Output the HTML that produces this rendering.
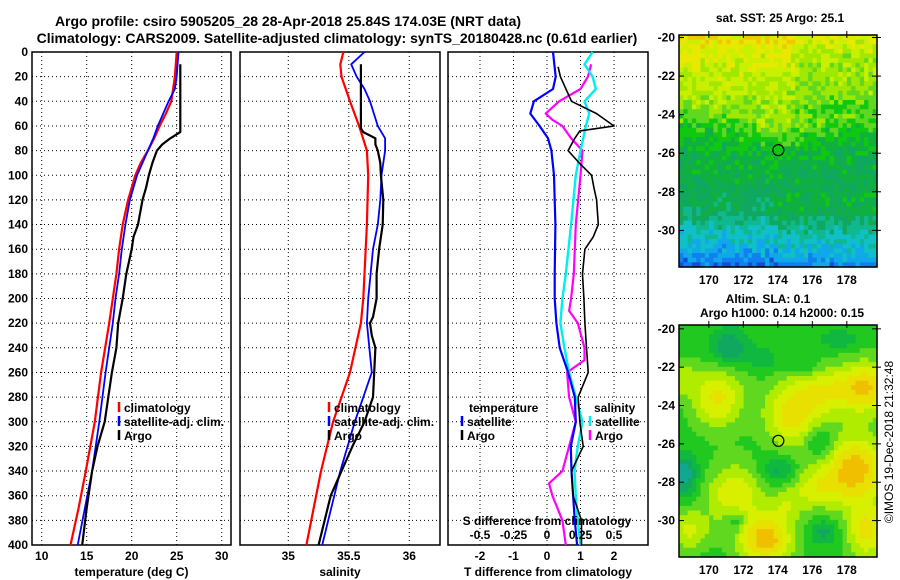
<!DOCTYPE html>
<html><head><meta charset="utf-8">
<style>
html,body{margin:0;padding:0;background:#fff;}
svg{display:block;font-family:"Liberation Sans",sans-serif;font-weight:bold;}
</style></head>
<body>
<svg id="c" width="900" height="580" viewBox="0 0 900 580">
<g id="g"></g>
</svg>
<script>
// ---- data ----
const tDepthClim = [0,10,20,30,40,50,60,70,80,90,100,120,140,160,180,200,220,260,300,340,370,400];
const tClim      = [25.0,24.9,24.8,24.6,24.4,23.8,23.1,22.5,21.8,21.0,20.4,19.6,19.0,18.6,18.3,17.9,17.5,16.6,15.9,14.9,14.1,13.2];
const tDepthSat  = [0,20,30,40,50,60,70,80,90,100,120,140,160,180,200,220,260,300,340,370,400];
const tSat       = [25.2,25.0,24.8,24.1,23.5,22.9,22.4,21.8,21.2,20.6,19.8,19.3,18.9,18.6,18.2,17.9,17.1,16.4,15.6,14.8,14.0];
const tDepthArgo = [10,65,70,75,80,90,100,110,120,140,150,160,180,200,220,240,260,280,300,320,340,370,400];
const tArgo      = [25.4,25.4,24.3,23.4,22.8,22.3,21.9,21.6,21.2,20.7,20.2,20.0,19.4,19.0,18.5,18.3,17.8,17.4,17.0,16.2,15.6,15.0,14.5];

const sDepthClim = [0,10,20,40,60,80,100,140,180,200,220,260,300,340,400];
const sClim      = [35.455,35.43,35.44,35.51,35.585,35.65,35.66,35.65,35.63,35.62,35.60,35.51,35.37,35.27,35.15];
const sDepthSat  = [0,10,20,30,40,60,70,80,100,120,140,160,180,200,220,260,300,340,400];
const sSat       = [35.63,35.52,35.565,35.63,35.675,35.74,35.80,35.80,35.77,35.76,35.74,35.70,35.68,35.66,35.65,35.69,35.55,35.43,35.28];
const sDepthArgo = [10,62,65,70,75,80,90,100,120,140,160,180,200,215,220,230,240,280,300,320,340,360,400];
const sArgo      = [35.60,35.60,35.62,35.72,35.72,35.74,35.76,35.765,35.785,35.78,35.75,35.73,35.73,35.70,35.675,35.69,35.72,35.70,35.63,35.53,35.44,35.35,35.25];

const dDepthT    = [0,20,30,40,50,60,70,80,100,140,180,200,220,240,260,280,300,320,340,360,380,400];
const dTSat      = [0.18,0.26,0.18,-0.39,-0.5,-0.22,0.03,0.13,0.21,0.25,0.23,0.23,0.28,0.38,0.63,0.83,0.86,0.71,0.73,0.78,0.83,0.9];
const dDepthTA   = [12,20,40,50,60,64,70,80,90,100,110,120,140,150,160,180,200,220,240,260,280,300,320,340,360,380,400];
const dTArgo     = [0.33,0.40,0.73,1.48,2.0,0.98,0.83,0.63,0.96,1.33,1.4,1.48,1.53,1.38,1.13,1.06,1.1,1.13,1.18,1.23,0.93,0.98,1.08,0.73,0.78,1.03,1.03];
const dDepthS    = [0,10,20,30,40,50,60,80,100,140,180,200,220,240,260,280,300,320,340,360,380,400];
const dSSat      = [0.34,0.28,0.34,0.365,0.28,0.315,0.29,0.25,0.215,0.18,0.14,0.115,0.10,0.13,0.165,0.215,0.265,0.23,0.205,0.215,0.23,0.25];
const dDepthSA   = [10,20,30,40,50,55,60,70,80,100,140,180,200,210,220,240,250,260,280,300,320,340,350,360,380,400];
const dSArgo     = [0.33,0.305,0.25,0.09,-0.01,0.04,0.115,0.18,0.265,0.25,0.215,0.2,0.18,0.165,0.23,0.28,0.28,0.15,0.165,0.215,0.165,0.115,0.015,0.04,0.115,0.14];

const tTicks = [10,15,20,25,30];
const sTicks = [35,35.5,36];
const dTicks = [-2,-1,0,1,2];
const dSTickLabels = ["-0.5","-0.25","0","0.25","0.5"];
const depthTicks = [0,20,40,60,80,100,120,140,160,180,200,220,240,260,280,300,320,340,360,380,400];
const latTicks = [-20,-22,-24,-26,-28,-30];
const lonTicks = [170,172,174,176,178];

// ---- helpers ----
const NS="http://www.w3.org/2000/svg";
const G=document.getElementById('g');
function mk(tag,attrs,parent){const e=document.createElementNS(NS,tag);for(const k in attrs)e.setAttribute(k,attrs[k]);(parent||G).appendChild(e);return e;}
function txt(x,y,s,size,anchor,parent){const e=mk('text',{x:x,y:y,'font-size':size,'text-anchor':anchor||'middle',fill:'#000'},parent);e.textContent=s;return e;}
const Y0=52,Y1=545;
const yD=d=>Y0+(Y1-Y0)*d/400;
function lin(v0,p0,v1,p1){return v=>p0+(v-v0)*(p1-p0)/(v1-v0);}

function panel(name,x0,x1,xs,ticks,labels,title){
  const g=mk('g',{});
  
  
  ticks.forEach((t,i)=>{
    const x=xs(t);
    const l=mk('line',{x1:x,x2:x,y1:Y0,y2:Y1,stroke:'#000','stroke-width':1,'stroke-dasharray':'1,3'},g);
    
    
    const tl=txt(x,560,labels[i],12,'middle',g);
    
    
  });
  depthTicks.forEach(d=>{
    if(d===0||d===400)return;
    const l=mk('line',{x1:x0,x2:x1,y1:yD(d),y2:yD(d),stroke:'#000','stroke-width':1,'stroke-dasharray':'1,3'},g);
    
    
  });
  const r=mk('rect',{x:x0,y:Y0,width:x1-x0,height:Y1-Y0,fill:'none',stroke:'#000','stroke-width':1.5},g);
  
  
  const t=txt((x0+x1)/2,576,title,12,'middle',g);
  
  
  return g;
}
function line(g,name,depths,vals,xs,color,w){
  const d=depths.map((dd,i)=>(i?'L':'M')+xs(vals[i]).toFixed(1)+','+yD(dd).toFixed(1)).join(' ');
  const p=mk('path',{d:d,fill:'none',stroke:color,'stroke-width':w,'stroke-linejoin':'round'},g);
  
  
}
function legendEntry(g,x,y,color,label,name){
  const l=mk('line',{x1:x,x2:x,y1:y-10,y2:y,stroke:color,'stroke-width':2.5},g);
  
  
  const t=txt(x+5,y,label,12,'start',g);
  
  
}

// titles
let e=txt(288,26,'Argo profile: csiro 5905205_28 28-Apr-2018 25.84S 174.03E (NRT data)',14);


e=txt(337,43,'Climatology: CARS2009. Satellite-adjusted climatology: synTS_20180428.nc (0.61d earlier)',14);



depthTicks.forEach(d=>{
  const t=txt(28,yD(d)+4,String(d),12,'end');
  
  
});

// panel 1 temperature
const xT=lin(10,41.7,30,221.7);
const p1=panel('temperature-panel',32,231,xT,tTicks,tTicks.map(String),'temperature (deg C)');
line(p1,'temperature-climatology-line',tDepthClim,tClim,xT,'#f00',2.2);
line(p1,'temperature-satellite-line',tDepthSat,tSat,xT,'#00f',1.8);
line(p1,'temperature-argo-line',tDepthArgo,tArgo,xT,'#000',2.2);
legendEntry(p1,119,412,'#f00','climatology','legend-climatology');
legendEntry(p1,119,426,'#00f','satellite-adj. clim.','legend-satellite');
legendEntry(p1,119,440,'#000','Argo','legend-argo');

// panel 2 salinity
const xS=lin(35,288.3,36,409.3);
const p2=panel('salinity-panel',240,440,xS,sTicks,['35','35.5','36'],'salinity');
line(p2,'salinity-climatology-line',sDepthClim,sClim,xS,'#f00',2.2);
line(p2,'salinity-satellite-line',sDepthSat,sSat,xS,'#00f',1.8);
line(p2,'salinity-argo-line',sDepthArgo,sArgo,xS,'#000',2.2);
legendEntry(p2,329,412,'#f00','climatology','legend-climatology-s');
legendEntry(p2,329,426,'#00f','satellite-adj. clim.','legend-satellite-s');
legendEntry(p2,329,440,'#000','Argo','legend-argo-s');

// panel 3 differences
const xDT=lin(0,547,1,580.5);
const xDS=lin(0,547,0.5,614);
const p3=panel('difference-panel',448,648,xDT,dTicks,dTicks.map(String),'T difference from climatology');
line(p3,'salinity-diff-argo-line',dDepthSA,dSArgo,xDS,'#f0f',2.2);
line(p3,'salinity-diff-satellite-line',dDepthS,dSSat,xDS,'#0ee',2.4);
line(p3,'temperature-diff-satellite-line',dDepthT,dTSat,xDT,'#00f',2.2);
line(p3,'temperature-diff-argo-line',dDepthTA,dTArgo,xDT,'#000',1.6);
e=txt(469,412,'temperature',12,'start',p3);


legendEntry(p3,462,426,'#00f','satellite','legend-t-satellite');
legendEntry(p3,462,440,'#000','Argo','legend-t-argo');
e=txt(594,412,'salinity',12,'start',p3);


legendEntry(p3,590,426,'#0ee','satellite','legend-s-satellite');
legendEntry(p3,590,440,'#f0f','Argo','legend-s-argo');
e=txt(547,525,'S difference from climatology',12,'middle',p3);


dSTickLabels.forEach((s,i)=>{
  const t=txt(xDS(parseFloat(s)),539,s,12,'middle',p3);
  
  
});

// ---- maps ----
function hash(i,j){let h=(i*374761393+j*668265263)|0;h=(h^(h>>>13))*1274126177|0;return ((h^(h>>>16))>>>0)/4294967295;}
function palette(stops,v){
  v=Math.max(0,Math.min(stops.length-1,v));
  return stops[Math.round(v)];
}
const sstColors=['#f0a000','#f0c800','#e8e800','#c8f000','#a0e800','#60d820','#10c810','#10b040','#10a860','#10b890','#10c0c8','#10a8e8','#1080f0','#1050d8','#0020a0'];
const slaColors=['#10a890','#10a860','#10b840','#20c820','#60d820','#b0ec00','#d8f000','#e8e000','#f0c000'];

function drawMapCells(name,y0,y1,latTop,latBot,fn,colors){
  const g=mk('g',{});
  
  
  const nx=46, ny=50, w=198/nx, h=(y1-y0)/ny;
  for(let j=0;j<ny;j++){
    const lat=latTop+(latBot-latTop)*(j+0.5)/ny;
    for(let i=0;i<nx;i++){
      const lon=168.27+(179.75-168.27)*(i+0.5)/nx;
      const v=fn(lon,lat,i,j);
      mk('rect',{x:(679+i*w).toFixed(2),y:(y0+j*h).toFixed(2),width:(w+0.6).toFixed(2),height:(h+0.6).toFixed(2),fill:palette(colors,v)},g);
    }
  }
}
function sstField(lon,lat,i,j){
  const a=[-19.9,-21,-22,-23,-24,-25,-26,-27,-28,-29,-30,-31,-31.9];
  const b=[1.6,2.8,3.3,3.7,5.0,6.4,7.0,7.3,7.5,7.9,9.6,10.8,12.5];
  let k=0;while(k<a.length-2&&lat<a[k+1])k++;
  let v=b[k]+(b[k+1]-b[k])*(lat-a[k])/(a[k+1]-a[k]);
  const dx=(lon-174)/2.2, dy=(lat+24.6)/1.0;
  v-=1.6*Math.exp(-dx*dx-dy*dy);
  if(lat<-28&&lon>174)v-=0.6;
  if(lat>-24&&lon>175)v+=0.8;
  v+=(hash(i,j)-0.5)*2.0;
  return v;
}
const slaBlobs=[
 [177,-23.2,2.6,1.3,1.0],[179.3,-23,1.4,1.4,0.9],[170.5,-23.6,1.5,1.6,1.1],[174.8,-24.7,1.6,1.5,1.1],
 [178.5,-27.3,1.8,1.8,1.5],[173.3,-31,1.6,1.3,1.5],[171.5,-28.6,1.6,1.6,1.0],[179.2,-30.6,1.2,1.5,1.1],
 [168.9,-30.5,1.1,1.1,0.8],[176.2,-28.3,1.5,1.1,0.8],[174.5,-29.2,1.0,0.9,0.5],[168.5,-22.6,0.7,0.9,0.6],
 [171.2,-21,1.0,0.9,-0.8],[168.6,-27.6,0.7,1.0,-1.0],[174,-27.4,1.0,0.7,-0.6],[176.5,-25.9,0.8,0.8,-0.6],
 [171.6,-30,0.6,0.6,-0.6],[176.6,-30.6,0.8,0.6,-0.6],[173.2,-21.6,0.8,0.6,-0.4],[175.5,-22,0.9,0.5,-0.4],[177.6,-20.6,1.1,0.5,-0.4]];
function slaField(lon,lat){
  let v=0;
  slaBlobs.forEach(b=>{const dx=(lon-b[0])/b[2],dy=(lat-b[1])/b[3];v+=b[4]*Math.exp(-dx*dx-dy*dy);});
  return 3+v*3.4;
}

drawMapCells('sst-map-image',35,267,-19.87,-31.9,sstField,sstColors);
e=txt(780,22,'sat. SST: 25 Argo: 25.1',12);



drawMapCells('sla-map-image',325,557,-19.8,-31.9,slaField,slaColors);
e=txt(768,303,'Altim. SLA: 0.1',12);


e=txt(782,317,'Argo h1000: 0.14 h2000: 0.15',12);



function mapAxes(name,y0,y1,latTop,latBot){
  const g=mk('g',{});
  
  
  const xl=lin(168.27,679,179.75,877), yl=lin(latTop,y0,latBot,y1);
  latTicks.forEach(v=>{
    const y=yl(v);
    mk('line',{x1:679,x2:684,y1:y,y2:y,stroke:'#000'},g);
    mk('line',{x1:872,x2:881,y1:y,y2:y,stroke:'#000'},g);
    const t=txt(675,y+4,String(v),12,'end',g);
    
    
  });
  lonTicks.forEach(v=>{
    const x=xl(v);
    mk('line',{x1:x,x2:x,y1:y0-4,y2:y0+3,stroke:'#000'},g);
    const t=txt(x,y1+17,String(v),12,'middle',g);
    
    
  });
  const r=mk('rect',{x:679,y:y0,width:198,height:y1-y0,fill:'none',stroke:'#000','stroke-width':1.5},g);
  
  
  const c=mk('circle',{cx:xl(174.03),cy:yl(-25.84),r:5.5,fill:'none',stroke:'#000','stroke-width':1.2},g);
  
  
}
mapAxes('sst-map',35,267,-19.87,-31.9);
mapAxes('sla-map',325,557,-19.8,-31.9);

e=mk('text',{x:0,y:0,'font-size':12,'font-weight':'normal','text-anchor':'middle',transform:'translate(893,442) rotate(-90)'});
e.textContent='©IMOS 19-Dec-2018 21:32:48';


</script>
</body></html>
